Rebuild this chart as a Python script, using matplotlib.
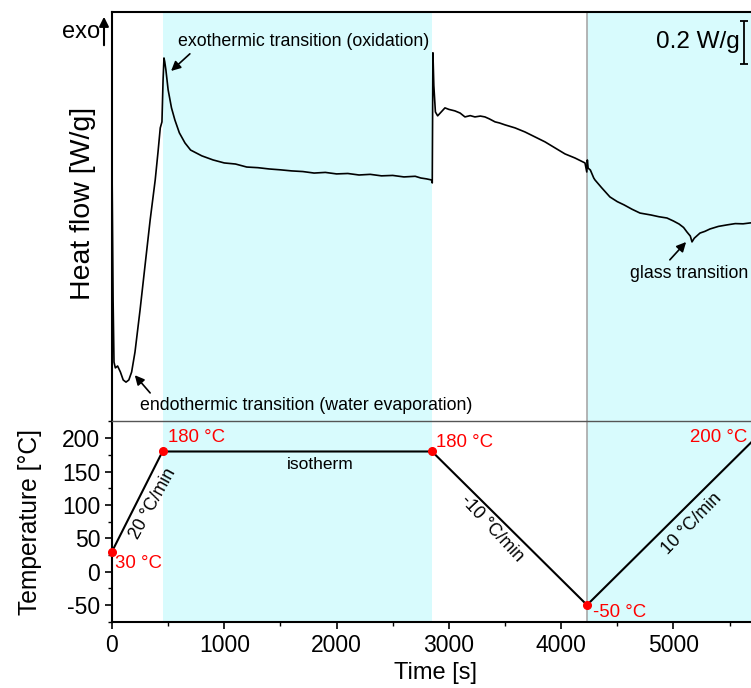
import matplotlib
matplotlib.use("Agg")
import matplotlib.pyplot as plt
import matplotlib.ticker as tck
from matplotlib.patches import FancyArrowPatch

plt.rcParams['font.family'] = ['Liberation Sans', 'DejaVu Sans']
plt.rcParams['axes.unicode_minus'] = False

# heat flow signal (time in s, heat flow in W/g, arbitrary offset)
hf_time = [0, 10, 18, 30, 50, 75, 100, 125, 150, 175, 205, 250, 295, 340, 385,
           410, 430, 445, 455, 463, 470, 480, 500, 530, 560, 600, 650, 700,
           800, 900, 1000, 1100, 1200, 1300, 1400, 1500, 1600, 1700, 1800,
           1900, 2000, 2100, 2200, 2300, 2400, 2500, 2600, 2700, 2750, 2800,
           2845, 2852, 2858, 2866, 2880, 2900, 2965, 3000, 3054, 3100, 3143,
           3190, 3232, 3280, 3321, 3360, 3411, 3450, 3500, 3589, 3678, 3767,
           3856, 3945, 4034, 4123, 4212, 4228, 4233, 4240, 4260, 4290, 4301,
           4360, 4434, 4500, 4560, 4630, 4702, 4800, 4870, 4942, 5000, 5050,
           5090, 5120, 5150, 5165, 5185, 5236, 5280, 5325, 5400, 5477, 5550,
           5620, 5681, 5750, 5850]
hf_value = [1.214, 0.563, 0.274, 0.247, 0.256, 0.228, 0.191, 0.181, 0.191,
            0.228, 0.321, 0.516, 0.726, 0.935, 1.121, 1.251, 1.363, 1.391,
            1.586, 1.688, 1.670, 1.633, 1.540, 1.456, 1.400, 1.340, 1.293,
            1.260, 1.233, 1.214, 1.200, 1.195, 1.181, 1.178, 1.172, 1.168,
            1.163, 1.160, 1.153, 1.156, 1.149, 1.151, 1.144, 1.147, 1.140,
            1.142, 1.135, 1.138, 1.130, 1.126, 1.121, 1.107, 1.712, 1.560,
            1.437, 1.419, 1.456, 1.449, 1.442, 1.432, 1.414, 1.420, 1.414,
            1.418, 1.414, 1.405, 1.391, 1.386, 1.377, 1.363, 1.344, 1.321,
            1.298, 1.270, 1.242, 1.223, 1.200, 1.158, 1.214, 1.176, 1.167,
            1.130, 1.121, 1.085, 1.042, 1.020, 1.005, 0.985, 0.967, 0.958,
            0.950, 0.944, 0.930, 0.916, 0.900, 0.879, 0.860, 0.833, 0.850,
            0.874, 0.882, 0.893, 0.905, 0.912, 0.918, 0.917, 0.921, 0.924,
            0.926]

# temperature program
temp_time = [0, 450, 2850, 4230, 5730]
temp_value = [30, 180, 180, -50, 200]
marker_time = [0, 450, 2850, 4230, 5730]
marker_value = [30, 180, 180, -50, 200]

# shaded segments (isotherm and reheating)
shade_spans = [(450, 2850), (4230, 6000)]
divider_time = 4230

xmax = 5900
cyan = '#d8fbfd'

fig = plt.figure(figsize=(7.51, 6.88), dpi=100)
W = xmax * 0.1123 / 751
ax1 = fig.add_axes([0.1491, 0.388, W, 0.594])
ax2 = fig.add_axes([0.1491, 0.0959, W, 0.292])

for ax in (ax1, ax2):
    for a, b in shade_spans:
        ax.axvspan(a, b, color=cyan, lw=0, zorder=0)
    ax.axvline(divider_time, color='#a8a8a8', lw=1.2, zorder=1)
    ax.set_xlim(0, xmax)
    ax.spines['right'].set_visible(False)
    ax.spines['left'].set_linewidth(1.5)

# ---- top panel: heat flow ----
ax1.plot(hf_time, hf_value, color='black', lw=1.2, zorder=3)
ax1.set_ylim(0, 1.90)
ax1.set_yticks([])
ax1.set_xticks([])
ax1.spines['top'].set_linewidth(1.5)
ax1.spines['bottom'].set_visible(False)

arrow = dict(arrowstyle='-|>', color='black', lw=1.2, mutation_scale=14)
ax1.text(588, 1.763, 'exothermic transition (oxidation)', fontsize=12.8,
         va='center', ha='left')
ax1.annotate('', xy=(508, 1.619), xytext=(712, 1.716), arrowprops=arrow)
ax1.text(249, 0.070, 'endothermic transition (water evaporation)',
         fontsize=12.8, va='center', ha='left')
ax1.annotate('', xy=(187, 0.223), xytext=(356, 0.121), arrowprops=arrow)
ax1.text(4613, 0.684, 'glass transition', fontsize=12.8, va='center', ha='left')
ax1.annotate('', xy=(5129, 0.842), xytext=(4951, 0.740), arrowprops=arrow)

# scale bar 0.2 W/g
ax1.errorbar([5628], [1.76], yerr=[0.1], color='black', capsize=3,
             elinewidth=1.3, capthick=1.3)
ax1.text(5590, 1.76, '0.2 W/g', fontsize=17.5, ha='right', va='center')

# exo arrow
fig.text(100 / 751, 1 - 32 / 688, 'exo', fontsize=17, ha='right', va='center')
fig.add_artist(FancyArrowPatch(
    (104 / 751, 1 - 48 / 688), (104 / 751, 1 - 14 / 688),
    transform=fig.transFigure, arrowstyle='-|>', mutation_scale=14,
    color='black', lw=1.5))

# ---- bottom panel: temperature ----
ax2.plot(temp_time, temp_value, color='black', lw=1.5, zorder=3)
ax2.plot(marker_time, marker_value, 'o', color='red', ms=5.5, zorder=4,
         clip_on=False)
ax2.set_ylim(-75.5, 225.5)
ax2.spines['top'].set_linewidth(1.0)
ax2.spines['top'].set_color('#555555')
ax2.spines['bottom'].set_linewidth(1.5)
ax2.xaxis.set_major_locator(tck.MultipleLocator(1000))
ax2.xaxis.set_minor_locator(tck.MultipleLocator(500))
ax2.yaxis.set_major_locator(tck.MultipleLocator(50))
ax2.yaxis.set_minor_locator(tck.MultipleLocator(25))
ax2.tick_params(which='major', direction='out', length=5, width=1.2,
                labelsize=16.5)
ax2.tick_params(which='minor', direction='out', length=3, width=1.0)

# axis titles placed like the original
fig.text(436 / 751, 1 - 673 / 688, 'Time [s]', fontsize=17, ha='center',
         va='center')
fig.text(83 / 751, 1 - 203 / 688, 'Heat flow [W/g]', fontsize=20.5,
         rotation=90, ha='center', va='center')
fig.text(30 / 751, 1 - 522 / 688, 'Temperature [°C]', fontsize=17.7,
         rotation=90, ha='center', va='center')

red = dict(color='red', fontsize=13.4, va='center')
ax2.text(500, 201, '180 °C', ha='left', **red)
ax2.text(30, 12, '30 °C', ha='left', **red)
ax2.text(2885, 194, '180 °C', ha='left', **red)
ax2.text(4283, -61, '-50 °C', ha='left', **red)
ax2.text(5655, 201, '200 °C', ha='right', **red)

ax2.text(1852, 160, 'isotherm', fontsize=12.5, ha='center', va='center')
ax2.text(365, 102, '20 °C/min', fontsize=12.8, ha='center', va='center',
         rotation=61)
ax2.text(3384, 65, '-10 °C/min', fontsize=12.8, ha='center', va='center',
         rotation=-47)
ax2.text(5165, 72, '10 °C/min', fontsize=12.8, ha='center', va='center',
         rotation=46)

fig.savefig('out.png', dpi=100)
